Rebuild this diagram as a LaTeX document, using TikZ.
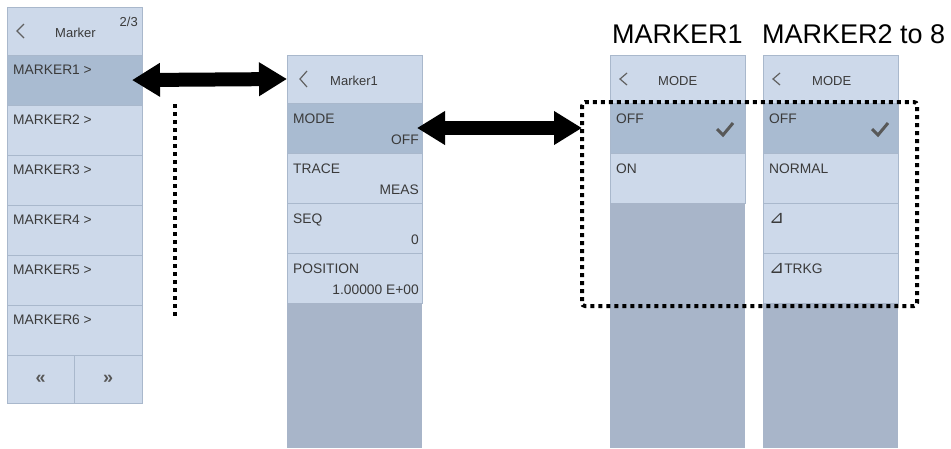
\documentclass[tikz,border=0pt]{standalone}
\usepackage{fontspec}
\setmainfont{Liberation Sans}
\newfontfamily\symfont{DejaVu Sans}
\usetikzlibrary{arrows.meta,calc}

\definecolor{cellbg}{HTML}{CDD9EA}
\definecolor{selbg}{HTML}{A9BBD1}
\definecolor{emptybg}{HTML}{A8B5C9}
\definecolor{sepline}{HTML}{A9B8CC}
\definecolor{txt}{HTML}{3A3A3A}

\newcommand\rtri{{\symfont\fontsize{18}{14}\selectfont ⊿}}

\tikzset{
    cell/.style={draw=sepline, line width=1pt, fill=cellbg, anchor=north west,
        minimum width=135pt, minimum height=50pt, inner sep=0pt, outer sep=0pt},
    head/.style={cell, minimum height=48pt},
    sel/.style={cell, fill=selbg},
    blank/.style={cell, fill=emptybg, draw=none},
    lbl/.style={anchor=base west, inner sep=0pt, text=txt,
        font=\fontsize{13.8}{14}\selectfont},
    val/.style={lbl, anchor=base east},
    title/.style={anchor=base west, inner sep=0pt, font=\fontsize{27}{27}\selectfont},
    chev/.style={draw=txt!80, line width=1.2pt},
    tick/.style={draw=txt!85, line width=3pt},
    bigarrow/.style={line width=14pt,
        {Triangle[length=28pt,width=32pt]}-{Triangle[length=28pt,width=32pt]}},
    dots/.style={line width=4pt, dash pattern=on 4pt off 4pt},
}

\begin{document}
\begin{tikzpicture}[x=1pt, y=-1pt]
    \useasboundingbox (0,0) rectangle (951,448);

    % Marker menu, page 2/3
    \node[head] (p1h) at (7,7) {};
    \draw[chev] ($(p1h.west)+(17,-7)$) -- ++(-7,7) -- ++(7,7);
    \node[lbl, font=\fontsize{13}{13}\selectfont] at ($(p1h.west)+(48,6)$) {Marker};
    \node[val, font=\fontsize{13}{13}\selectfont] at ($(p1h.north east)+(-4,19)$) {2/3};
    \foreach \i/\s in {1/sel,2/cell,3/cell,4/cell,5/cell,6/cell} {
        \node[\s] (m\i) at (7,{55+50*(\i-1)}) {};
        \node[lbl] at ($(m\i.north west)+(6,19)$) {MARKER\i\ >};
    }
    \node[cell, minimum width=67.5pt, minimum height=48pt] (prev) at (7,355) {};
    \node[cell, minimum width=67.5pt, minimum height=48pt] (next) at (74.5,355) {};
    \node[text=txt!85, font=\fontsize{18}{18}\selectfont\bfseries] at (prev) {«};
    \node[text=txt!85, font=\fontsize{18}{18}\selectfont\bfseries] at (next) {»};

    % Marker1 menu
    \node[head] (p2h) at (287,55) {};
    \draw[chev] ($(p2h.west)+(20,-8)$) -- ++(-7,8) -- ++(7,8);
    \node[lbl, font=\fontsize{13}{13}\selectfont] at ($(p2h.west)+(43,6)$) {Marker1};
    \foreach \i/\s/\a/\b in {1/sel/MODE/OFF, 2/cell/TRACE/MEAS, 3/cell/SEQ/0,
                             4/cell/POSITION/1.00000 E+00} {
        \node[\s] (r\i) at (287,{103+50*(\i-1)}) {};
        \node[lbl] at ($(r\i.north west)+(6,20)$) {\a};
        \node[val] at ($(r\i.north east)+(-3,41)$) {\b};
    }
    \node[blank, minimum height=145pt] (p2e) at (287,303) {};

    % MODE menu for MARKER1
    \node[title] (t1) at (612,43) {MARKER1};
    \node[head] (p3h) at (610,55) {};
    \draw[chev] ($(p3h.west)+(17,-6)$) -- ++(-7,6) -- ++(7,6);
    \node[lbl, font=\fontsize{13}{13}\selectfont] at ($(p3h.west)+(48,6)$) {MODE};
    \node[sel] (a1) at (610,103) {};
    \node[lbl] at ($(a1.north west)+(6,20)$) {OFF};
    \draw[tick] ($(a1.north west)+(107,26)$) -- ++(6,6) -- ++(10,-12);
    \node[cell] (a2) at (610,153) {};
    \node[lbl] at ($(a2.north west)+(6,20)$) {ON};
    \node[blank, minimum height=245pt] (p3e) at (610,203) {};

    % MODE menu for MARKER2 to 8
    \node[title] (t2) at (762,43) {MARKER2 to 8};
    \node[head] (p4h) at (763,55) {};
    \draw[chev] ($(p4h.west)+(17,-6)$) -- ++(-7,6) -- ++(7,6);
    \node[lbl, font=\fontsize{13}{13}\selectfont] at ($(p4h.west)+(49,6)$) {MODE};
    \foreach \i/\s/\a in {1/sel/OFF, 2/cell/NORMAL, 3/cell/\rtri, 4/cell/\rtri TRKG} {
        \node[\s] (b\i) at (763,{103+50*(\i-1)}) {};
        \node[lbl] at ($(b\i.north west)+(6,20)$) {\a};
    }
    \draw[tick] ($(b1.north west)+(109,26)$) -- ++(6,6) -- ++(10,-12);
    \node[blank, minimum height=145pt] (p4e) at (763,303) {};

    % links
    \coordinate (boxnw) at (582,102);
    \coordinate (boxse) at (917,306);
    \draw[dots, rounded corners=3pt] (boxnw) rectangle (boxse);
    \coordinate (vtop) at (175,104);
    \coordinate (vbot) at (175,318);
    \draw[dots] (vtop) -- (vbot);
    \draw[bigarrow, shorten <=-10pt] (m1.east) -- (p2h.west);
    \draw[bigarrow, shorten <=-5pt] (r1.east) -- (boxnw |- r1.east);
\end{tikzpicture}
\end{document}
